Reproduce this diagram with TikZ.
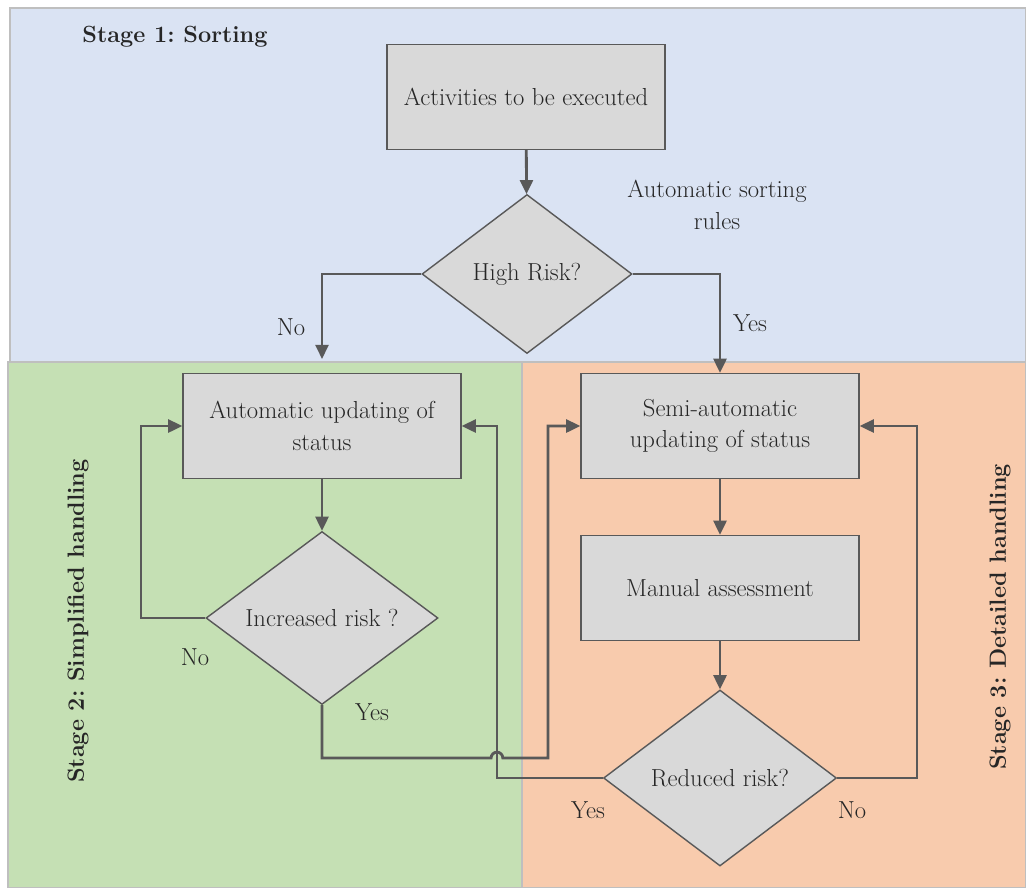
\documentclass[tikz,border=0pt]{standalone}
\usetikzlibrary{arrows.meta, shapes.geometric}

\definecolor{stageblue}{HTML}{DAE3F3}
\definecolor{stagegreen}{HTML}{C5E0B4}
\definecolor{stageorange}{HTML}{F8CBAD}
\definecolor{boxgray}{HTML}{D9D9D9}
\definecolor{linegray}{HTML}{595959}
\definecolor{edgegray}{HTML}{BFBFBF}
\definecolor{txt}{HTML}{262626}

\frenchspacing

\begin{document}
\begin{tikzpicture}
[
						x=0.03cm, y=-0.03cm,
						font=\fontsize{21}{27}\selectfont, text=txt,
						region/.style = {draw=edgegray, line width=1pt},
						task/.style = {draw=linegray, fill=boxgray, rectangle, line width=1.2pt, minimum width=8.34cm, minimum height=3.15cm, align=center},
						check/.style = {draw=linegray, fill=boxgray, diamond, line width=1.2pt, inner sep=0pt, align=center},
						flow/.style = {draw=linegray, line width=2.4pt, -{Triangle[length=12pt,width=11pt]}},
						stage/.style = {font=\bfseries\fontsize{20}{26}\selectfont}
					]
\useasboundingbox (0,0) rectangle (1026,888);
\fill[white] (0,0) rectangle (1026,888);
\draw[region, fill=stageblue] (10,8) rectangle (1026,362);
\draw[region, fill=stagegreen] (8,362) rectangle (522,888);
\draw[region, fill=stageorange] (522,362) rectangle (1026,888);

\node[stage] (s1) at (175,37) {Stage 1: Sorting};
\node[stage, rotate=90] (s2) at (78,621) {Stage 2: Simplified handling};
\node[stage, rotate=90] (s3) at (1000,617) {Stage 3: Detailed handling};

\node[task] (act) at (526,97) {Activities to be executed};
\node[check, minimum width=6.3cm, minimum height=4.77cm] (risk) at (527,274) {High Risk?};
\node[task] (auto) at (322,426) {Automatic updating of\\status};
\node[check, minimum width=6.96cm, minimum height=5.19cm] (incr) at (322,618) {Increased risk ?};
\node[task] (semi) at (720,426) {Semi-automatic\\updating of status};
\node[task] (manual) at (720,588) {Manual assessment};
\node[check, minimum width=6.99cm, minimum height=5.28cm] (red) at (720,778) {Reduced risk?};

\node (rules) at (717,205) [align=center] {Automatic sorting\\rules};
\node (no1) at (291,327) {No};
\node (yes1) at (750,323) {Yes};
\node (no2) at (195,657) {No};
\node (yes2) at (372,712) {Yes};
\node (yes3) at (588,810) {Yes};
\node (no3) at (852,810) {No};

\coordinate (nodrop) at (322,359);
\coordinate (loopL) at (141,618);
\coordinate (hopL) at (491.1,758);
\coordinate (jumpR) at (548,758);
\coordinate (retL) at (497,778);
\coordinate (retR) at (917,778);

\draw[flow] (act) -- (risk);
\draw[flow] (risk.west) -| (nodrop);
\draw[flow] (risk.east) -| (semi.north);
\draw[flow] (auto) -- (incr);
\draw[flow] (incr.west) -- (loopL) |- (auto.west);
\draw[flow] (incr.south) |- (hopL) arc[start angle=180, end angle=0, radius=5pt] -- (jumpR) |- (semi.west);
\draw[flow] (semi) -- (manual);
\draw[flow] (manual) -- (red);
\draw[flow] (red.west) -- (retL) |- (auto.east);
\draw[flow] (red.east) -- (retR) |- (semi.east);
\end{tikzpicture}
\end{document}
